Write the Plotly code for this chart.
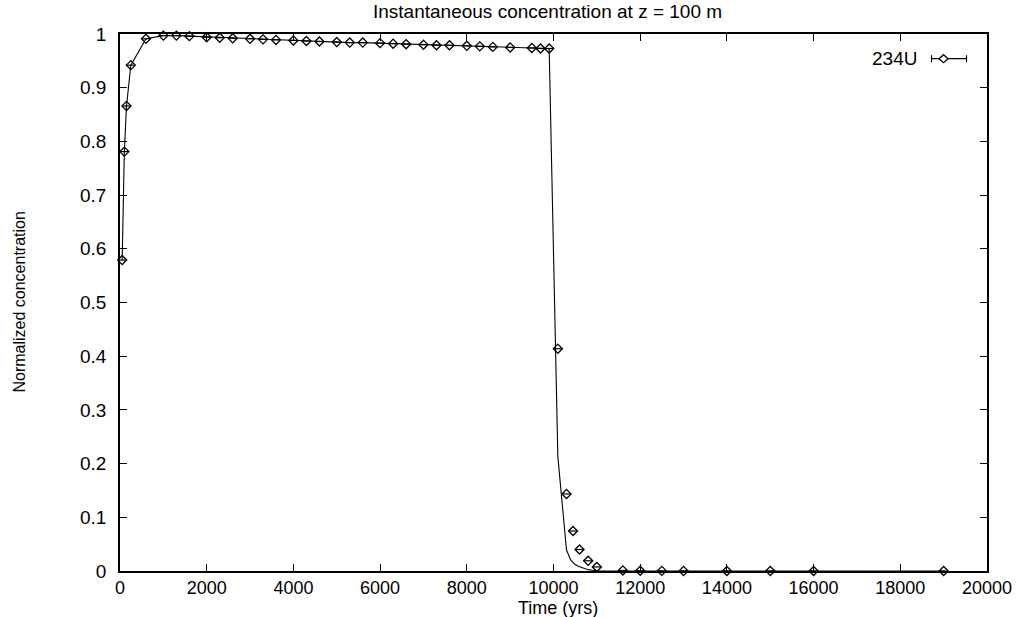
import plotly.graph_objects as go

# ---- data ----
pts_time = [50, 100, 150, 250, 600, 1000, 1300, 1600, 2000, 2300, 2600, 3000, 3300, 3600,
            4000, 4300, 4600, 5000, 5300, 5600, 6000, 6300, 6600, 7000, 7300, 7600, 8000,
            8300, 8600, 9000, 9500, 9700, 9900, 10100, 10300, 10450, 10600, 10800, 11000,
            11600, 12000, 12500, 13000, 14000, 15000, 16000, 19000]
pts_conc = [0.579, 0.781, 0.866, 0.942, 0.991, 0.997, 0.997, 0.996, 0.994, 0.993, 0.992,
            0.991, 0.990, 0.989, 0.988, 0.987, 0.986, 0.985, 0.984, 0.984, 0.983, 0.982,
            0.981, 0.980, 0.979, 0.979, 0.978, 0.977, 0.976, 0.975, 0.974, 0.973, 0.973,
            0.414, 0.1435, 0.0745, 0.040, 0.019, 0.0075, 0.001, 0.0005, 0.0002, 0.0001,
            0.0, 0.0, 0.0, 0.0]

line_time = [50, 100, 150, 250, 600, 1000, 1300, 1600, 2000, 2300, 2600, 3000, 3300, 3600,
             4000, 4300, 4600, 5000, 5300, 5600, 6000, 6300, 6600, 7000, 7300, 7600, 8000,
             8300, 8600, 9000, 9500, 9700, 9900, 10100, 10300, 10400, 10500, 10600, 10700,
             10800, 10900, 11000, 12000, 14000, 16000, 19000]
line_conc = [0.579, 0.781, 0.866, 0.942, 0.991, 0.997, 0.997, 0.996, 0.994, 0.993, 0.992,
             0.991, 0.990, 0.989, 0.988, 0.987, 0.986, 0.985, 0.984, 0.984, 0.983, 0.982,
             0.981, 0.980, 0.979, 0.979, 0.978, 0.977, 0.976, 0.975, 0.974, 0.973, 0.973,
             0.213, 0.039, 0.020, 0.012, 0.008, 0.0045, 0.0025, 0.0013, 0.0006, 0.0, 0.0,
             0.0, 0.0]

x_err = 100  # horizontal error half-width (yrs)

x_ticks = [0, 2000, 4000, 6000, 8000, 10000, 12000, 14000, 16000, 18000, 20000]
x_tick_labels = ["0", "2000", "4000", "6000", "8000", "10000", "12000", "14000",
                 "16000", "18000", "20000"]
y_ticks = [0, 0.1, 0.2, 0.3, 0.4, 0.5, 0.6, 0.7, 0.8, 0.9, 1.0]
y_tick_labels = ["0", "0.1", "0.2", "0.3", "0.4", "0.5", "0.6", "0.7", "0.8", "0.9", "1"]

series_name = "234U"
title_text = "Instantaneous concentration at z = 100 m"
x_label = "Time (yrs)"
y_label = "Normalized concentration"

# ---- layout geometry (window pixels) ----
W, H = 1018, 617
PLOT_L, PLOT_R, PLOT_T, PLOT_B = 120, 987.5, 34.3, 571
L, T = PLOT_L, PLOT_T
R, B = W - PLOT_R, H - PLOT_B
pw, ph = W - L - R, H - T - B
FONT = "Liberation Sans"
FS = 19      # horizontal texts
FS_X = 18    # x tick labels / x title
FS_V = 16    # rotated y label


def fx(px):  # window pixel -> paper x
    return (px - L) / pw


def fy(py):  # window pixel -> paper y
    return (H - B - py) / ph


fig = go.Figure()

fig.add_trace(go.Scatter(
    x=line_time, y=line_conc, mode="lines",
    line=dict(color="black", width=1.1),
    showlegend=False, cliponaxis=False, hoverinfo="skip"))

fig.add_trace(go.Scatter(
    x=pts_time, y=pts_conc, mode="markers", name=series_name,
    marker=dict(symbol="diamond-open", size=7, color="black",
                line=dict(color="black", width=1.3)),
    error_x=dict(type="constant", value=x_err, color="black", thickness=1.2, width=0),
    showlegend=False, cliponaxis=False))

axis_common = dict(
    showline=True, linecolor="black", linewidth=1.5, mirror="allticks",
    ticks="inside", ticklen=7, tickwidth=1.2, tickcolor="black",
    showgrid=False, zeroline=False)

fig.update_xaxes(range=[0, 20000], tickmode="array", tickvals=x_ticks,
                 ticktext=x_tick_labels, ticklabelstandoff=0,
                 tickfont=dict(family=FONT, size=FS_X, color="black"), **axis_common)
fig.update_yaxes(range=[0, 1], tickmode="array", tickvals=y_ticks,
                 ticktext=y_tick_labels, ticklabelstandoff=8,
                 tickfont=dict(family=FONT, size=FS, color="black"), **axis_common)

annotations = [
    dict(text=x_label, xref="paper", yref="paper", x=fx(558), y=fy(607.5),
         xanchor="center", yanchor="middle", showarrow=False,
         font=dict(family=FONT, size=FS_X, color="black")),
    dict(text=y_label, xref="paper", yref="paper", x=fx(19), y=0.5,
         xanchor="center", yanchor="middle", textangle=-90, showarrow=False,
         font=dict(family=FONT, size=FS_V, color="black")),
    dict(text=series_name, xref="paper", yref="paper", x=fx(919),
         y=fy(58.5), xanchor="right", yanchor="middle", showarrow=False,
         font=dict(family=FONT, size=FS, color="black")),
    dict(text=title_text, xref="paper", yref="paper", x=fx(548), y=fy(12),
         xanchor="center", yanchor="middle", showarrow=False,
         font=dict(family=FONT, size=FS, color="black")),
]

# legend sample |--<>--|
ly = fy(59)
lx0, lx1, ldx = fx(932), fx(967), fx(944)
shapes = [
    dict(type="line", xref="paper", yref="paper", x0=lx0, x1=lx1, y0=ly, y1=ly,
         line=dict(color="black", width=1.2)),
    dict(type="line", xref="paper", yref="paper", x0=lx0, x1=lx0,
         y0=fy(55.5), y1=fy(62.5), line=dict(color="black", width=1.2)),
    dict(type="line", xref="paper", yref="paper", x0=lx1, x1=lx1,
         y0=fy(55.5), y1=fy(62.5), line=dict(color="black", width=1.2)),
    dict(type="path", xref="paper", yref="paper", xsizemode="pixel", ysizemode="pixel",
         xanchor=ldx, yanchor=ly, path="M-4.5,0 L0,4 L4.5,0 L0,-4 Z",
         fillcolor="white", line=dict(color="black", width=1.3)),
]

fig.update_layout(
    width=W, height=H,
    margin=dict(l=L, r=R, t=T, b=B, autoexpand=False),
    paper_bgcolor="white", plot_bgcolor="white",
    showlegend=False,
    font=dict(family=FONT, size=FS, color="black"),
    annotations=annotations,
    shapes=shapes,
)

# remove the default 8px page margin so the figure fills the window exactly
fig.write_html("out.html",
               config={"displayModeBar": False},
               post_script="document.body.style.margin='0';"
                           "document.body.style.overflow='hidden';")
